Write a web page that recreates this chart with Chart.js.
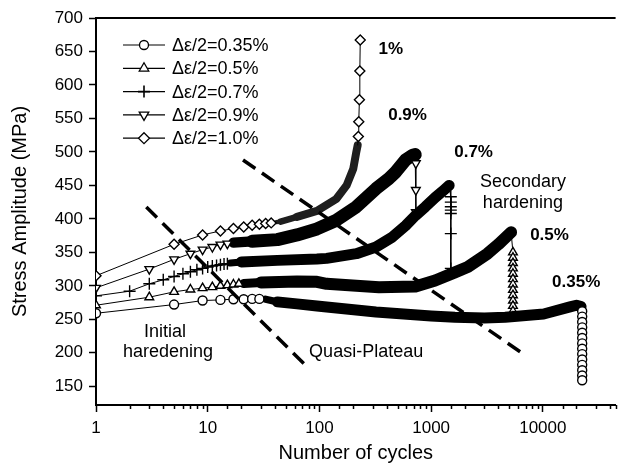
<!DOCTYPE html>
<html>
<head>
<meta charset="utf-8">
<script src="https://cdn.jsdelivr.net/npm/chart.js"></script>
<style>
  html, body { margin: 0; padding: 0; background: #fff; overflow: hidden; }
  canvas { display: block; }
</style>
</head>
<body>
<canvas id="fatigueChart" width="623" height="469"></canvas>
<script>
// Δε/2 = 0.35 %  (circles)
const cycles035 = [1, 5, 9, 13, 17, 21, 25, 29, 33, 42, 63, 95, 116, 321, 1000, 1633, 3000, 4600, 10170, 17500, 20000, 22000,
  22500, 22500, 22500, 22500, 22500, 22500, 22500, 22500, 22500, 22500, 22500, 22500, 22500, 22500];
const stress035 = [259, 272, 278, 279, 280, 280, 280.5, 280.5, 280, 276, 273, 270, 268.5, 261, 255, 253, 252, 253, 258, 268.5, 271, 269,
  262, 254, 246, 238, 230, 222, 214, 206, 198, 190, 182, 174, 166, 159];

// Δε/2 = 0.5 %  (triangles)
const cycles05 = [1, 3, 5, 7, 9, 11, 13, 15, 17, 19, 21, 30, 63, 95, 116, 214, 341, 724, 1087, 1633, 2126, 3192, 4000, 5196,
  5400, 5400, 5400, 5400, 5400, 5400, 5400, 5400, 5400, 5400, 5400, 5400, 5400];
const stress05 = [271, 283, 291, 294.5, 296.5, 298, 300, 301, 302, 303, 303.5, 305, 306.5, 306, 303, 300, 298, 299, 308, 320, 328, 348, 362, 380,
  350, 342, 334, 326, 318, 310, 302, 294, 286, 278, 270, 262, 254];

// Δε/2 = 0.7 %  (plus)
const cycles07 = [1, 2, 3, 4, 5, 6, 7, 8, 9, 10, 11, 12, 13, 14, 15, 16, 20, 42, 95, 116, 214, 321, 451, 591, 724, 887, 1087, 1300, 1450,
  1500, 1500, 1500, 1500, 1500, 1500, 1500];
const stress07 = [285, 292, 303, 309, 314, 318, 321, 324, 326, 328, 329.5, 330.5, 331.5, 332.5, 333, 334, 335.5, 338, 340, 341, 348, 358, 373, 390, 405, 418, 432, 443, 450,
  433, 425, 418, 413, 408, 378, 326];

// Δε/2 = 0.9 %  (down triangles)
const cycles09 = [1, 3, 5, 7, 9, 11, 13, 15, 17, 25, 42, 63, 95, 142, 214, 321, 418, 482, 591, 680, 720, 730, 730, 730];
const stress09 = [297, 325, 339.5, 348, 354, 358, 361.5, 363, 364.5, 366.5, 369, 376, 385, 398, 418, 445, 460, 470, 488, 495, 496, 483, 443, 410];

// Δε/2 = 1.0 %  (diamonds)
const cycles10 = [1, 5, 9, 13, 17, 21, 25, 29, 33, 37, 41, 45, 63, 95, 142, 175, 201, 214, 220, 223, 225, 228, 230, 232];
const stress10 = [315, 362, 376, 382, 385.5, 388, 390.5, 392, 393, 394, 395, 396, 403, 412, 430, 450, 475, 500, 510, 523, 545, 578, 621, 667];

// dashed region boundaries
const dashA_x = [2.82, 77.4];
const dashA_y = [417.7, 179.2];
const dashB_x = [20.7, 6540];
const dashB_y = [488, 199.3];

const seriesLabels = ['Δε/2=0.35%', 'Δε/2=0.5%', 'Δε/2=0.7%', 'Δε/2=0.9%', 'Δε/2=1.0%'];
const yTickValues = [150, 175, 200, 225, 250, 275, 300, 325, 350, 375, 400, 425, 450, 475, 500, 525, 550, 575, 600, 625, 650, 675, 700];

// text notes: [text, cycles, stress, bold]
const notes = [
  ['1%', 435, 653.7, true],
  ['0.9%', 615, 555, true],
  ['0.7%', 2400, 500, true],
  ['Secondary', 6630, 455, false],
  ['hardening', 6630, 423.7, false],
  ['0.5%', 11480, 376, true],
  ['0.35%', 19880, 305.7, true],
  ['Initial', 4.15, 231, false],
  ['haredening', 4.41, 201, false],
  ['Quasi-Plateau', 262, 201, false]
];

const FONT = '"Liberation Sans", Arial, Helvetica, sans-serif';
Chart.defaults.font.family = FONT;
Chart.defaults.color = '#000';

function toPoints(xs, ys) {
  return xs.map((n, i) => ({ x: n, y: ys[i] }));
}

function isDecade(v) {
  const l = Math.log10(v);
  return Math.abs(l - Math.round(l)) < 1e-9;
}

// thin connecting line with open markers, thick band where the markers pile up
function series(label, xs, ys, style, radius, rotation, band, bandWidth, bandColor) {
  return {
    label: label,
    data: toPoints(xs, ys),
    showLine: true,
    borderColor: '#000',
    borderWidth: 1,
    borderJoinStyle: 'round',
    borderCapStyle: 'round',
    tension: 0,
    pointStyle: style,
    pointRotation: rotation,
    pointRadius: ctx => {
      const v = ctx.raw ? ctx.raw.x : 0;
      return (v < band[0] || v > band[1]) ? radius : 0;
    },
    pointBackgroundColor: '#fff',
    pointBorderColor: '#000',
    pointBorderWidth: 1.4,
    segment: {
      borderWidth: ctx => {
        const a = ctx.p0.parsed.x, b = ctx.p1.parsed.x;
        if (a < band[0] || b > band[1]) return 1;
        // markers pile up gradually at the start of the band
        const k = Math.min(1, 0.45 + (Math.log10(b) - Math.log10(band[0])) / 0.5);
        return bandWidth * k;
      },
      borderColor: ctx => {
        const a = ctx.p0.parsed.x, b = ctx.p1.parsed.x;
        return (a >= band[0] && b <= band[1]) ? bandColor : '#000';
      }
    }
  };
}

function dashed(xs, ys) {
  return {
    label: '',
    data: toPoints(xs, ys),
    showLine: true,
    borderColor: '#000',
    borderWidth: 3.5,
    borderDash: [15, 8],
    pointRadius: 0
  };
}

const legendStyles = [
  { style: 'circle', r: 4.5, rot: 0 },
  { style: 'triangle', r: 5.5, rot: 0 },
  { style: 'cross', r: 6, rot: 0 },
  { style: 'triangle', r: 5.5, rot: 180 },
  { style: 'rectRot', r: 5.5, rot: 0 }
];

function drawMarker(ctx, style, r, rot, x, y) {
  ctx.save();
  ctx.translate(x, y);
  ctx.rotate(rot * Math.PI / 180);
  ctx.fillStyle = '#fff';
  ctx.strokeStyle = '#000';
  ctx.lineWidth = 1.3;
  ctx.beginPath();
  if (style === 'circle') {
    ctx.arc(0, 0, r, 0, Math.PI * 2);
    ctx.fill(); ctx.stroke();
  } else if (style === 'triangle') {
    ctx.moveTo(0, -r);
    ctx.lineTo(r * 0.866, r * 0.5);
    ctx.lineTo(-r * 0.866, r * 0.5);
    ctx.closePath();
    ctx.fill(); ctx.stroke();
  } else if (style === 'rectRot') {
    ctx.moveTo(0, -r); ctx.lineTo(r, 0); ctx.lineTo(0, r); ctx.lineTo(-r, 0);
    ctx.closePath();
    ctx.fill(); ctx.stroke();
  } else {
    ctx.lineWidth = 1.6;
    ctx.moveTo(0, -r); ctx.lineTo(0, r);
    ctx.moveTo(-r, 0); ctx.lineTo(r, 0);
    ctx.stroke();
  }
  ctx.restore();
}

const decorations = {
  id: 'decorations',
  afterDraw(chart) {
    const { ctx, chartArea: a, scales: { x, y } } = chart;
    ctx.save();
    ctx.strokeStyle = '#000';

    // top frame line
    ctx.lineWidth = 2;
    ctx.beginPath();
    ctx.moveTo(a.left - 1, a.top);
    ctx.lineTo(a.right, a.top);
    ctx.stroke();

    // minor ticks
    ctx.lineWidth = 1.5;
    ctx.beginPath();
    x.ticks.forEach(t => {
      if (!isDecade(t.value)) {
        const px = Math.round(x.getPixelForValue(t.value)) + 0.5;
        ctx.moveTo(px, a.bottom);
        ctx.lineTo(px, a.bottom + 4);
      }
    });
    y.ticks.forEach(t => {
      if (t.value % 50 !== 0) {
        const py = Math.round(y.getPixelForValue(t.value)) + 0.5;
        ctx.moveTo(a.left, py);
        ctx.lineTo(a.left - 4, py);
      }
    });
    ctx.stroke();

    // notes
    ctx.fillStyle = '#000';
    ctx.textAlign = 'center';
    ctx.textBaseline = 'middle';
    notes.forEach(n => {
      ctx.font = n[3] ? 'bold 17px ' + FONT : '18px ' + FONT;
      ctx.fillText(n[0], x.getPixelForValue(n[1]), y.getPixelForValue(n[2]));
    });

    // legend
    const lx = a.left + 27, ly = a.top + 27, rowH = 23.3;
    ctx.font = '18px ' + FONT;
    ctx.textAlign = 'left';
    seriesLabels.forEach((lab, i) => {
      const ry = ly + i * rowH;
      ctx.lineWidth = 1.2;
      ctx.beginPath();
      ctx.moveTo(lx, ry);
      ctx.lineTo(lx + 42, ry);
      ctx.stroke();
      const s = legendStyles[i];
      drawMarker(ctx, s.style, s.r, s.rot, lx + 21, ry);
      ctx.fillStyle = '#000';
      ctx.fillText(lab, lx + 49, ry + 1);
    });
    ctx.restore();
  }
};

new Chart(document.getElementById('fatigueChart'), {
  type: 'scatter',
  data: {
    datasets: [
      dashed(dashA_x, dashA_y),
      dashed(dashB_x, dashB_y),
      series(seriesLabels[0], cycles035, stress035, 'circle', 4.5, 0, [33, 22000], 11, '#000'),
      series(seriesLabels[1], cycles05, stress05, 'triangle', 5, 0, [21, 5196], 12, '#000'),
      series(seriesLabels[2], cycles07, stress07, 'cross', 6, 0, [16, 1450], 11, '#000'),
      series(seriesLabels[3], cycles09, stress09, 'triangle', 5, 180, [17, 720], 13, '#000'),
      series(seriesLabels[4], cycles10, stress10, 'rectRot', 5, 0, [41, 220], 8, '#1e1e1e')
    ]
  },
  options: {
    responsive: false,
    animation: false,
    layout: { padding: { top: 18, left: 0, right: 0, bottom: 0 } },
    plugins: {
      legend: { display: false },
      tooltip: { enabled: false }
    },
    scales: {
      x: {
        type: 'logarithmic',
        min: 1,
        max: 44800,
        afterFit: s => { s.height = 64; },
        border: { display: true, width: 2, color: '#000' },
        grid: {
          drawOnChartArea: false,
          drawTicks: true,
          tickLength: 7,
          tickWidth: 1.5,
          tickColor: ctx => (ctx.tick && isDecade(ctx.tick.value)) ? '#000' : 'rgba(0,0,0,0)'
        },
        ticks: {
          autoSkip: false,
          maxRotation: 0,
          padding: 6,
          font: { size: 17 },
          color: '#000',
          callback: v => isDecade(v) ? String(Math.round(v)) : ''
        },
        title: {
          display: true,
          text: 'Number of cycles',
          font: { size: 20 },
          color: '#000',
          padding: { top: 0, bottom: 4 }
        }
      },
      y: {
        min: 122,
        max: 700,
        afterFit: s => { s.width = 96; },
        afterBuildTicks: s => { s.ticks = yTickValues.map(v => ({ value: v })); },
        border: { display: true, width: 2, color: '#000' },
        grid: {
          drawOnChartArea: false,
          drawTicks: true,
          tickLength: 7,
          tickWidth: 1.5,
          tickColor: ctx => (ctx.tick && ctx.tick.value % 50 === 0) ? '#000' : 'rgba(0,0,0,0)'
        },
        ticks: {
          padding: 6,
          font: { size: 17 },
          color: '#000',
          callback: v => (v % 50 === 0) ? String(v) : ''
        },
        title: {
          display: true,
          text: 'Stress Amplitude (MPa)',
          font: { size: 20 },
          color: '#000',
          padding: { top: 8, bottom: 0 }
        }
      }
    }
  },
  plugins: [decorations]
});
</script>
</body>
</html>
